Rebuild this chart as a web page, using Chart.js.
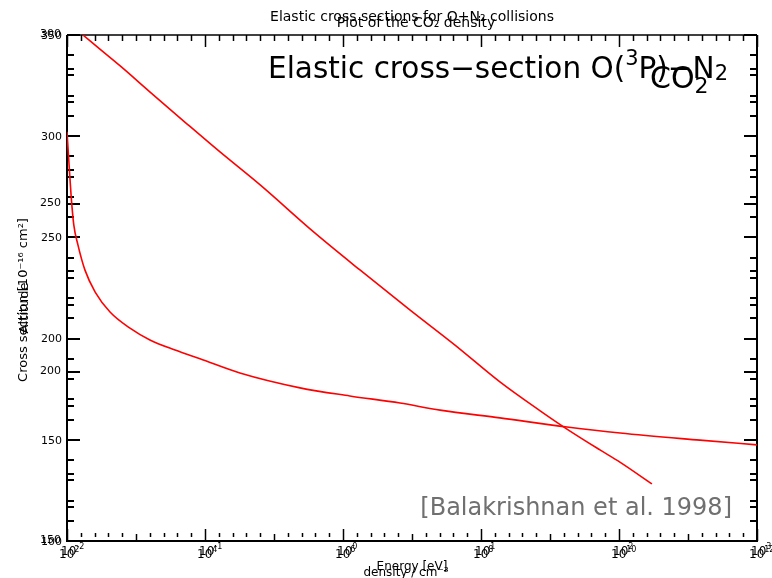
<!DOCTYPE html>
<html>
<head>
<meta charset="utf-8">
<script src="https://cdn.jsdelivr.net/npm/chart.js@4"></script>
<style>
  html, body { margin: 0; padding: 0; background: #fff; }
</style>
</head>
<body>
<canvas id="myChart" width="772" height="578"></canvas>
<script>
// CO2 density profile (density in cm^-3, altitude in km)
const density = [1.7e2, 3.0e2, 5.9e2, 1.6e3, 5.1e3, 1.65e4, 6.3e4, 3.9e5, 1.76e6, 9.4e6, 4.2e7, 1.88e8, 7.2e8, 1.76e9, 5.3e9, 1.03e10, 3.0e10];
const altitude = [350, 343, 334.7, 321.8, 307, 292.2, 275.9, 252.2, 233.9, 214.1, 196.8, 178.6, 164.3, 155.3, 145.0, 139.0, 128.2];

// O(3P)-N2 elastic cross section (energy in eV, sigma in 1e-16 cm^2)
const energy = [0.0100, 0.0103, 0.0107, 0.0112, 0.0120, 0.0135, 0.0160, 0.0205, 0.0286, 0.0399, 0.0607, 0.092, 0.179, 0.488, 1.12, 2.59, 5.05, 13.7, 42, 102, 386, 1000];
const crossSection = [271.3, 262.9, 252.6, 243.7, 237.8, 230.3, 223.8, 217.9, 213.1, 209.6, 206.6, 204.0, 199.8, 195.4, 193.0, 190.9, 188.8, 186.5, 183.8, 182.0, 179.9, 178.5];

// tick labels
const altTicks = [100, 150, 200, 250, 300, 350];
const csTicks = [150, 200, 250, 300];
const densityExp = [2, 4, 6, 8, 10, 12];
const energyExp = [-2, -1, 0, 1, 2, 3];

const FONT = "'DejaVu Sans', sans-serif";

function line(ctx, x1, y1, x2, y2) {
  ctx.beginPath();
  ctx.moveTo(x1, y1);
  ctx.lineTo(x2, y2);
  ctx.stroke();
}

// draws a run of text pieces, each with its own size and baseline shift
function rich(ctx, parts, x, y, align) {
  let w = 0;
  parts.forEach((p) => {
    ctx.font = p.size + "px " + FONT;
    w += ctx.measureText(p.t).width;
  });
  let cx = align === "right" ? x - w : x;
  ctx.textAlign = "left";
  parts.forEach((p) => {
    ctx.font = p.size + "px " + FONT;
    ctx.fillText(p.t, cx, y + (p.dy || 0));
    cx += ctx.measureText(p.t).width;
  });
}

const idlAxes = {
  id: "idlAxes",
  beforeDatasetsDraw(chart) {
    const { ctx, chartArea: a, scales } = chart;
    ctx.save();
    ctx.strokeStyle = "#000";
    ctx.fillStyle = "#000";

    // frame
    ctx.lineWidth = 2;
    line(ctx, a.left, a.top, a.left, a.bottom + 1);
    line(ctx, a.left - 1, a.bottom, a.right + 1, a.bottom);
    line(ctx, a.right, a.top, a.right, a.bottom);
    ctx.lineWidth = 1.5;
    line(ctx, a.left, a.top, a.right, a.top);

    // y ticks on both sides, for both vertical scales
    ctx.lineWidth = 2;
    [[scales.y, 100, 350], [scales.yC, 150, 300]].forEach(([s, lo, hi]) => {
      for (let v = lo; v <= hi; v += 10) {
        const py = Math.round(s.getPixelForValue(v));
        const len = v % 50 === 0 ? 13 : 7;
        line(ctx, a.left, py, a.left + len, py);
        line(ctx, a.right, py, a.right - len, py);
      }
    });

    // x ticks, bottom and top
    ctx.lineWidth = 1.5;
    for (let k = 0; k <= 50; k++) {
      const px = Math.round(scales.x.getPixelForValue(Math.pow(10, 2 + 0.2 * k))) + 0.5;
      if (k % 10 === 0) {
        line(ctx, px, a.bottom, px, a.bottom - 12);
        line(ctx, px, a.top, px, a.top + 12);
      } else if (k % 5 === 0) {
        line(ctx, px, a.bottom - 1, px, a.bottom - 7);
        line(ctx, px, a.top, px, a.top + 6);
      } else {
        line(ctx, px, a.bottom - 8, px, a.bottom - 4);
        line(ctx, px, a.top, px, a.top + 6);
      }
    }

    // y tick labels, both scales share the left side
    ctx.font = "11px " + FONT;
    ctx.textAlign = "right";
    ctx.textBaseline = "middle";
    altTicks.forEach((v) => {
      ctx.fillText(String(v), a.left - 5, scales.y.getPixelForValue(v) + 1);
    });
    csTicks.forEach((v) => {
      ctx.fillText(String(v), a.left - 6, scales.yC.getPixelForValue(v) - 1);
    });

    // x tick labels
    ctx.textBaseline = "alphabetic";
    densityExp.forEach((e) => {
      const px = scales.x.getPixelForValue(Math.pow(10, e));
      rich(ctx, [{ t: "10", size: 12 }, { t: String(e), size: 8, dy: -6 }], px - 8, 558);
    });
    energyExp.forEach((e) => {
      const px = scales.xE.getPixelForValue(Math.pow(10, e));
      rich(ctx, [{ t: "10", size: 12 }, { t: String(e), size: 8, dy: -6 }], px - 6, 555);
    });

    // axis titles
    ctx.textAlign = "center";
    ctx.font = "12px " + FONT;
    ctx.fillText("Energy [eV]", 412, 570);
    ctx.fillText("density / cm⁻³", 406, 576);

    ctx.save();
    ctx.translate(27, 300);
    ctx.rotate(-Math.PI / 2);
    ctx.font = "13px " + FONT;
    ctx.fillText("Cross section [10⁻¹⁶ cm²]", 0, 0);
    ctx.fillText("Altitude", -8, 1);
    ctx.restore();

    // the two plot titles
    ctx.font = "14px " + FONT;
    ctx.fillText("Elastic cross sections for O+N₂ collisions", 412, 21);
    ctx.fillText("Plot of the CO₂ density", 416, 27);
    ctx.restore();
  },
  afterDatasetsDraw(chart) {
    const { ctx } = chart;
    ctx.save();
    ctx.fillStyle = "#000";
    ctx.textBaseline = "alphabetic";
    rich(ctx, [
      { t: "Elastic cross−section O(", size: 29.5 },
      { t: "3", size: 21, dy: -13 },
      { t: "P)−N", size: 29.5 },
      { t: "2", size: 21, dy: 2 }
    ], 728, 78, "right");
    rich(ctx, [
      { t: "CO", size: 30 },
      { t: "2", size: 22, dy: 5 }
    ], 650, 88);
    ctx.fillStyle = "#707070";
    ctx.font = "24px " + FONT;
    ctx.textAlign = "right";
    ctx.fillText("[Balakrishnan et al. 1998]", 732, 515);
    ctx.restore();
  }
};

const ctx = document.getElementById("myChart");

new Chart(ctx, {
  type: "line",
  data: {
    datasets: [
      {
        data: density.map((d, i) => ({ x: d, y: altitude[i] })),
        xAxisID: "x",
        yAxisID: "y",
        borderColor: "#ff0000",
        borderWidth: 1.6,
        pointRadius: 0,
        cubicInterpolationMode: "monotone",
      },
      {
        data: energy.map((e, i) => ({ x: e, y: crossSection[i] })),
        xAxisID: "xE",
        yAxisID: "yC",
        borderColor: "#ff0000",
        borderWidth: 1.6,
        pointRadius: 0,
        cubicInterpolationMode: "monotone",
      },
    ],
  },
  options: {
    responsive: false,
    animation: false,
    layout: { padding: { left: 67, right: 15, top: 35, bottom: 37 } },
    plugins: {
      legend: { display: false },
      tooltip: { enabled: false },
    },
    scales: {
      x: { type: "logarithmic", min: 1e2, max: 1e12, display: false },
      xE: { type: "logarithmic", min: 1e-2, max: 1e3, display: false },
      y: { type: "linear", min: 100, max: 350, display: false },
      yC: { type: "linear", min: 150, max: 300, display: false },
    },
  },
  plugins: [idlAxes],
});
</script>
</body>
</html>
